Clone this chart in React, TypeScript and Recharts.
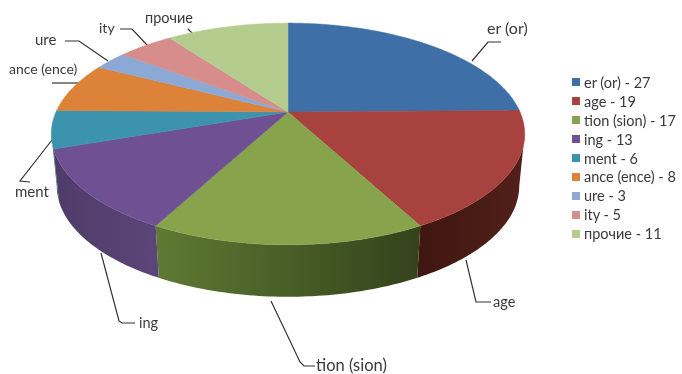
import React from "react";
import { PieChart, Pie, Legend } from "recharts";

const categories = ["er (or)", "age", "tion (sion)", "ing", "ment", "ance (ence)", "ure", "ity", "прочие"];
const counts = [27, 19, 17, 13, 6, 8, 3, 5, 11];
const topColors = ["#3f6fa7", "#a7423e", "#87a44c", "#6f5193", "#3b93ad", "#dd8239", "#8ca9d5", "#d68d8c", "#b5cc8f"];
const wallColors = [
  ["#2c4e76", "#2c4e76"],
  ["#3f1610", "#52201a"],
  ["#5e7a33", "#33421b"],
  ["#4f3b6a", "#5c4578"],
  ["#2a6a7d", "#2a6a7d"],
  ["#9c5c28", "#9c5c28"],
  ["#64789a", "#64789a"],
  ["#986565", "#986565"],
  ["#819266", "#819266"],
];

const tableData = categories.map((name, i) => ({
  name,
  value: counts[i],
  fill: topColors[i],
  wall: wallColors[i],
}));

// the pie is tilted in perspective, so its centre is not the centre of the ellipse
const TILT = 0.198;
const SQUASH = 0.459;
const DEPTH = 52;
const BOTTOM_SHRINK = 0.977;
const WALL_FROM = 101.4;
const WALL_TO = 258.6;

const project = (deg: number, cx: number, cy: number, r: number) => {
  const t = (deg * Math.PI) / 180;
  const u = Math.sin(t);
  const v = Math.cos(t);
  const d = 1 + TILT * v;
  return { x: cx + (r * u) / d, y: cy - (r * SQUASH * v) / d };
};

const arc = (from: number, to: number, cx: number, cy: number, r: number) => {
  const pts = [];
  for (let a = from; a < to; a += 1) pts.push(project(a, cx, cy, r));
  pts.push(project(to, cx, cy, r));
  return pts;
};

const FaceSector = (props: any) => {
  const { cx, cy, outerRadius, startAngle, endAngle, fill } = props;
  const pts = arc(90 - startAngle, 90 - endAngle, cx, cy, outerRadius);
  const d = `M${cx},${cy} ` + pts.map((p) => `L${p.x},${p.y}`).join(" ") + " Z";
  return <path d={d} fill={fill} stroke={fill} strokeWidth={0.5} />;
};

const WallSector = (props: any) => {
  const { cx, cy, outerRadius, startAngle, endAngle, wall, name } = props;
  const lo = Math.max(90 - startAngle, WALL_FROM);
  const hi = Math.min(90 - endAngle, WALL_TO);
  if (hi <= lo) return <g />;
  const top = arc(lo, hi, cx, cy, outerRadius);
  const bottom = top
    .map((p) => ({ x: cx + (p.x - cx) * BOTTOM_SHRINK, y: p.y + DEPTH }))
    .reverse();
  const all = [...top, ...bottom];
  const d = "M" + all.map((p) => `${p.x},${p.y}`).join(" L") + " Z";
  const id = `wall-${categories.indexOf(name)}`;
  return (
    <g>
      <defs>
        <linearGradient id={id} x1="0" y1="0" x2="1" y2="0">
          <stop offset="0%" stopColor={wall[0]} />
          <stop offset="100%" stopColor={wall[1]} />
        </linearGradient>
      </defs>
      <path d={d} fill={`url(#${id})`} />
    </g>
  );
};

const LegendList = ({ payload }: any) => {
  // both pies report to the legend, keep one row per category
  const rows = (payload || []).filter(
    (entry: any, i: number, all: any[]) => all.findIndex((e) => e.value === entry.value) === i
  );
  return (
    <ul style={{ listStyle: "none", margin: 0, padding: 0 }}>
      {rows.map((entry: any, i: number) => (
        <li key={i} style={{ display: "flex", alignItems: "center", height: 18.9, whiteSpace: "nowrap" }}>
          <span style={{ width: 8, height: 8, marginRight: 4, background: entry.color, flex: "none" }} />
          <span>{`${entry.value} - ${entry.payload.value}`}</span>
        </li>
      ))}
    </ul>
  );
};

// callout text and leader lines, placed by hand like in the original
const callouts = [
  { text: "er (or)", x: 487, y: 34, size: 16, line: "472,61 488,42 501,42" },
  { text: "age", x: 493, y: 307, size: 14.5, line: "466,260 476,302 491,302" },
  { text: "tion (sion)", x: 316, y: 371, size: 16.5, line: "271,301 300,362 304,366 315,366" },
  { text: "ing", x: 139, y: 328, size: 14.5, line: "101,253 119,321 122,323 135,323" },
  { text: "ment", x: 15, y: 197, size: 15, line: "52,140 20,181 30,182" },
  { text: "ance (ence)", x: 9, y: 74, size: 14, line: "52,83 79,83" },
  { text: "ure", x: 35, y: 45, size: 15, line: "65,41 79,41 108,61" },
  { text: "ity", x: 99, y: 33, size: 14, line: "120,29 132,29 148,46" },
  { text: "прочие", x: 145, y: 23, size: 14.5, line: "188,29 193,34" },
];

export default function App() {
  return (
    <div style={{ position: "absolute", left: 0, top: 0, width: 682, height: 374, background: "#fff", fontFamily: "Lato", color: "#3a3a3a", filter: "blur(0.4px)" }}>
      <PieChart width={682} height={374} margin={{ top: 0, right: 0, bottom: 0, left: 0 }}>
        <Pie
          data={tableData}
          dataKey="value"
          nameKey="name"
          cx={288}
          cy={112}
          outerRadius={232}
          startAngle={90}
          endAngle={-270}
          legendType="none"
          shape={WallSector}
          isAnimationActive={false}
        />
        <Pie
          data={tableData}
          dataKey="value"
          nameKey="name"
          cx={288}
          cy={112}
          outerRadius={232}
          startAngle={90}
          endAngle={-270}
          shape={FaceSector}
          isAnimationActive={false}
        />
        <Legend
          content={<LegendList />}
          layout="vertical"
          itemSorter={null}
          wrapperStyle={{ position: "absolute", left: 572, top: 73, width: 110, fontSize: 14.5 }}
        />
        {callouts.map((c) => (
          <g key={c.text}>
            <polyline points={c.line} fill="none" stroke="#333" strokeWidth={1.2} />
            <text x={c.x} y={c.y} fontFamily="Lato" fontSize={c.size} fill="#3a3a3a">
              {c.text}
            </text>
          </g>
        ))}
      </PieChart>
    </div>
  );
}
